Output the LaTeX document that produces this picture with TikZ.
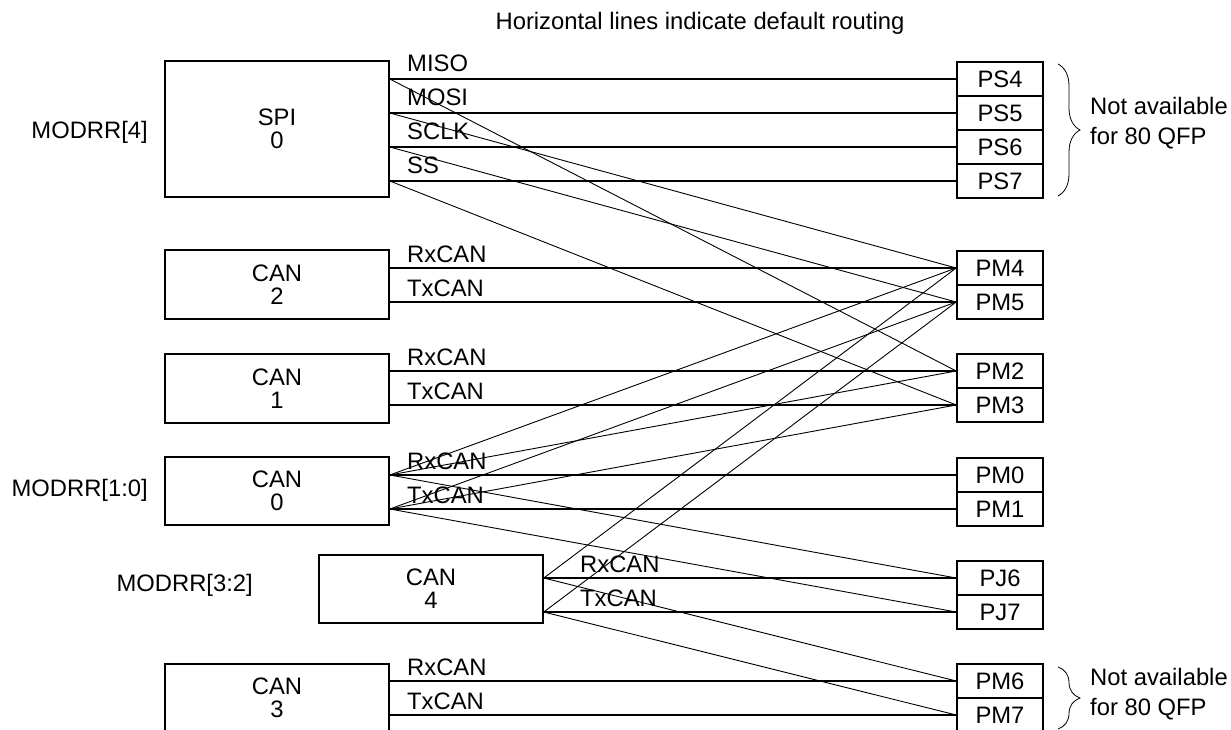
\documentclass[tikz,border=0pt]{standalone}
\usepackage{fontspec}
\setmainfont{Liberation Sans}
\usetikzlibrary{decorations.pathreplacing}
\begin{document}
\begin{tikzpicture}[x=1pt,y=-1pt,
  txt/.style={font=\fontsize{23.8}{23}\selectfont},
  blk/.style={txt, draw, line width=1.6pt, minimum width=224pt, inner sep=0pt, align=center},
  pbox/.style={txt, draw, line width=1.6pt, minimum width=86pt, minimum height=34pt, inner sep=0pt},
  dflt/.style={line width=1.4pt},
  altline/.style={line width=0.9pt},
  siglbl/.style={txt, anchor=base west, inner sep=0pt},
  side/.style={txt, anchor=base east, inner sep=0pt},
  note/.style={txt, anchor=base west, inner sep=0pt},
  bracestyle/.style={decorate, decoration={brace, amplitude=22pt}, line width=0.8pt}]
\useasboundingbox (0,0) rectangle (1231,730);

% title
\node[txt, anchor=base, inner sep=0pt] (title) at (700,30) {Horizontal lines indicate default routing};

% module boxes
\node[blk, minimum height=136pt] (spi)  at (277,129)   {SPI\\0};
\node[blk, minimum height=69pt]  (can2) at (277,284.5) {CAN\\2};
\node[blk, minimum height=69pt]  (can1) at (277,388.5) {CAN\\1};
\node[blk, minimum height=68pt]  (can0) at (277,491)   {CAN\\0};
\node[blk, minimum height=68pt]  (can4) at (431,589)   {CAN\\4};
\node[blk, minimum height=68pt]  (can3) at (277,698)   {CAN\\3};

% side labels
\node[side] (m4)  at (148,139) {MODRR[4]};
\node[side] (m10) at (148,496) {MODRR[1:0]};
\node[side] (m32) at (253,591) {MODRR[3:2]};

% port boxes
\node[pbox] (ps4) at (1000,79)  {PS4};
\node[pbox] (ps5) at (1000,113) {PS5};
\node[pbox] (ps6) at (1000,147) {PS6};
\node[pbox] (ps7) at (1000,181) {PS7};
\node[pbox] (pm4) at (1000,268) {PM4};
\node[pbox] (pm5) at (1000,302) {PM5};
\node[pbox] (pm2) at (1000,371) {PM2};
\node[pbox] (pm3) at (1000,405) {PM3};
\node[pbox] (pm0) at (1000,475) {PM0};
\node[pbox] (pm1) at (1000,509) {PM1};
\node[pbox] (pj6) at (1000,578) {PJ6};
\node[pbox] (pj7) at (1000,612) {PJ7};
\node[pbox] (pm6) at (1000,681) {PM6};
\node[pbox] (pm7) at (1000,715) {PM7};

% pin coordinates
\coordinate (miso) at (spi.east |- ps4.west);
\coordinate (mosi) at (spi.east |- ps5.west);
\coordinate (sclk) at (spi.east |- ps6.west);
\coordinate (ss)   at (spi.east |- ps7.west);
\coordinate (c2rx) at (can2.east |- pm4.west);
\coordinate (c2tx) at (can2.east |- pm5.west);
\coordinate (c1rx) at (can1.east |- pm2.west);
\coordinate (c1tx) at (can1.east |- pm3.west);
\coordinate (c0rx) at (can0.east |- pm0.west);
\coordinate (c0tx) at (can0.east |- pm1.west);
\coordinate (c4rx) at (can4.east |- pj6.west);
\coordinate (c4tx) at (can4.east |- pj7.west);
\coordinate (c3rx) at (can3.east |- pm6.west);
\coordinate (c3tx) at (can3.east |- pm7.west);

% default routing
\draw[dflt] (miso) -- (ps4.west);
\draw[dflt] (mosi) -- (ps5.west);
\draw[dflt] (sclk) -- (ps6.west);
\draw[dflt] (ss)   -- (ps7.west);
\draw[dflt] (c2rx) -- (pm4.west);
\draw[dflt] (c2tx) -- (pm5.west);
\draw[dflt] (c1rx) -- (pm2.west);
\draw[dflt] (c1tx) -- (pm3.west);
\draw[dflt] (c0rx) -- (pm0.west);
\draw[dflt] (c0tx) -- (pm1.west);
\draw[dflt] (c4rx) -- (pj6.west);
\draw[dflt] (c4tx) -- (pj7.west);
\draw[dflt] (c3rx) -- (pm6.west);
\draw[dflt] (c3tx) -- (pm7.west);

% alternative routing
\draw[altline] (miso) -- (pm2.west);
\draw[altline] (mosi) -- (pm4.west);
\draw[altline] (sclk) -- (pm5.west);
\draw[altline] (ss)   -- (pm3.west);
\draw[altline] (c0rx) -- (pm2.west);
\draw[altline] (c0rx) -- (pm4.west);
\draw[altline] (c0rx) -- (pj6.west);
\draw[altline] (c0tx) -- (pm3.west);
\draw[altline] (c0tx) -- (pm5.west);
\draw[altline] (c0tx) -- (pj7.west);
\draw[altline] (c4rx) -- (pm4.west);
\draw[altline] (c4rx) -- (pm6.west);
\draw[altline] (c4tx) -- (pm5.west);
\draw[altline] (c4tx) -- (pm7.west);

% signal labels
\node[siglbl] (lmiso) at (407,72)  {MISO};
\node[siglbl] (lmosi) at (407,106) {MOSI};
\node[siglbl] (lsclk) at (407,140) {SCLK};
\node[siglbl] (lss)   at (407,174) {SS};
\node[siglbl] (l2rx) at (407,262) {RxCAN};
\node[siglbl] (l2tx) at (407,296) {TxCAN};
\node[siglbl] (l1rx) at (407,365) {RxCAN};
\node[siglbl] (l1tx) at (407,399) {TxCAN};
\node[siglbl] (l0rx) at (407,469) {RxCAN};
\node[siglbl] (l0tx) at (407,503) {TxCAN};
\node[siglbl] (l4rx) at (580,572) {RxCAN};
\node[siglbl] (l4tx) at (580,606) {TxCAN};
\node[siglbl] (l3rx) at (407,675) {RxCAN};
\node[siglbl] (l3tx) at (407,709) {TxCAN};

% braces and notes
\coordinate (b1a) at (1058,64);
\coordinate (b1b) at (1058,196);
\coordinate (b2a) at (1058,667);
\coordinate (b2b) at (1058,729);
\draw[bracestyle] (b1a) -- (b1b);
\draw[bracestyle] (b2a) -- (b2b);
\node[note] (n1a) at (1090,115) {Not available};
\node[note] (n1b) at (1090,145) {for 80 QFP};
\node[note] (n2a) at (1090,685) {Not available};
\node[note] (n2b) at (1090,715) {for 80 QFP};
\end{tikzpicture}
\end{document}
